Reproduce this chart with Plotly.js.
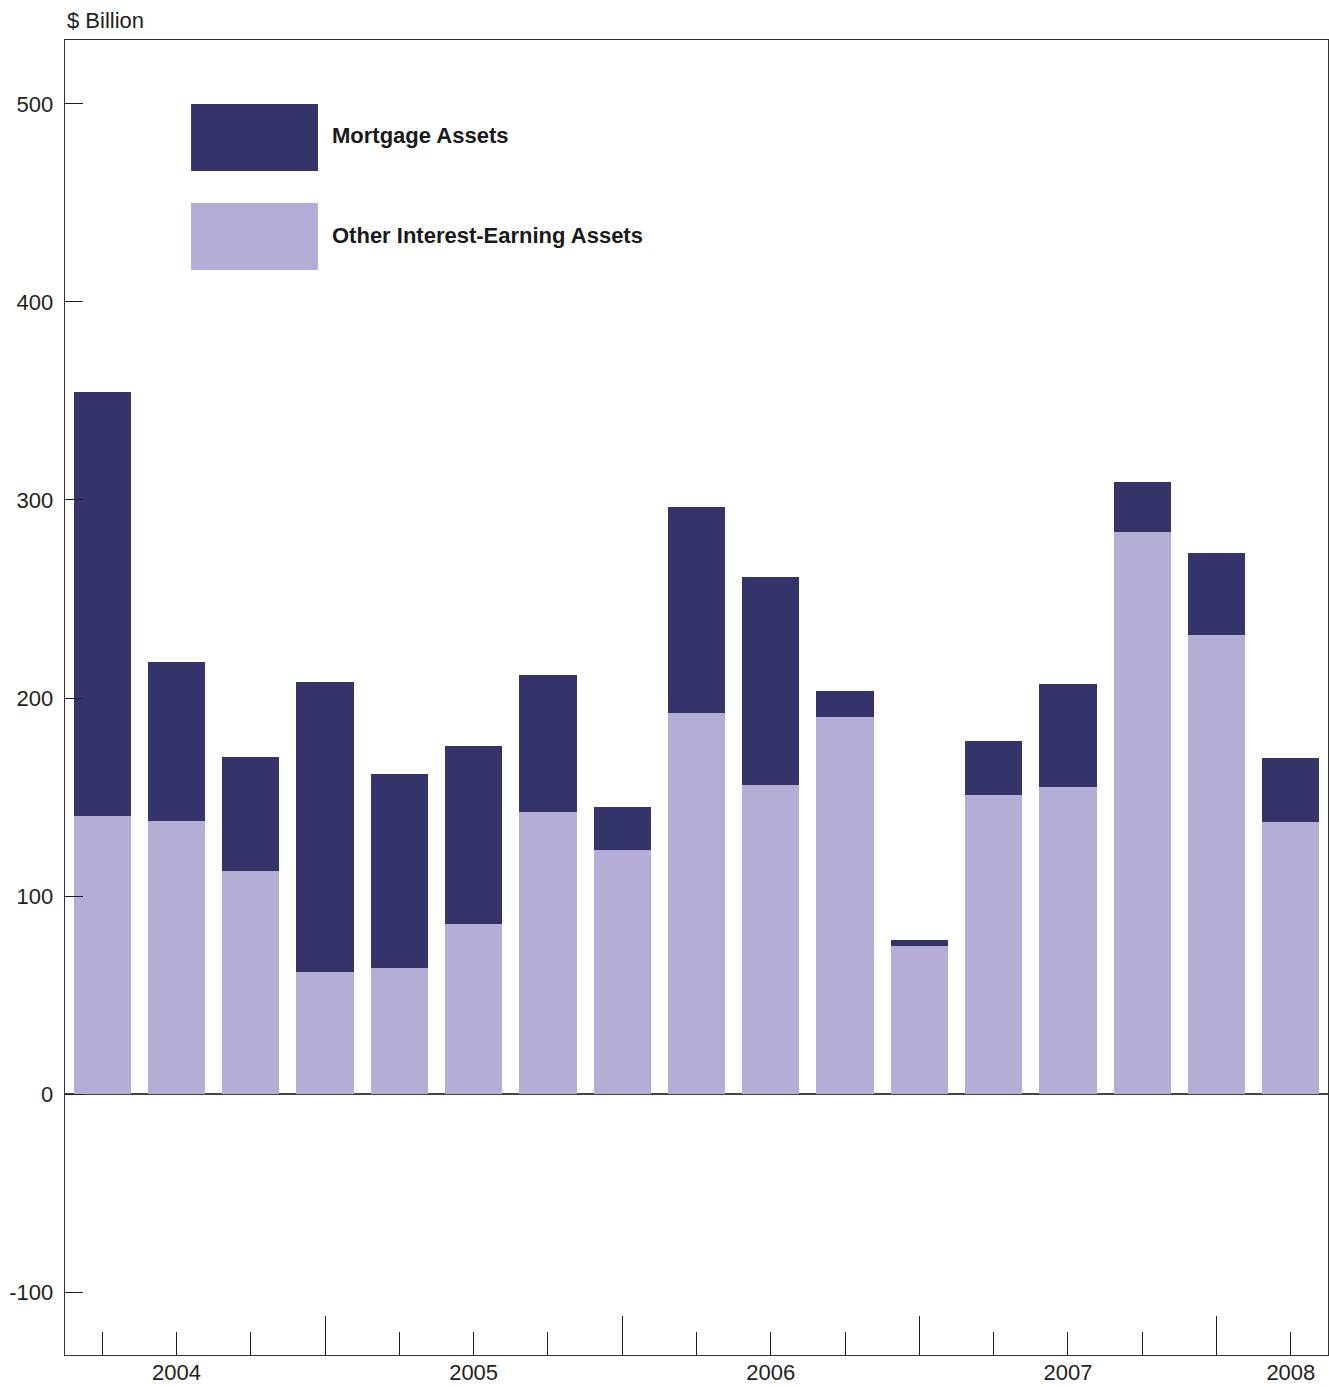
<!DOCTYPE html>
<html>
<head>
<meta charset="utf-8">
<script src="https://cdn.plot.ly/plotly-3.0.1.min.js"></script>
<style>
  html, body { margin: 0; padding: 0; background: #fff; }
  #chart { width: 1329px; height: 1387px; }
</style>
</head>
<body>
<div id="chart"></div>
<script>
// Quarters (2003 Q4 .. 2007 Q4)
const quarters = ["2003 Q4","2004 Q1","2004 Q2","2004 Q3","2004 Q4","2005 Q1","2005 Q2","2005 Q3","2005 Q4",
                  "2006 Q1","2006 Q2","2006 Q3","2006 Q4","2007 Q1","2007 Q2","2007 Q3","2007 Q4"];
// $ Billion
const otherAssets    = [140.4, 137.9, 112.6, 61.6, 63.6, 85.9, 142.4, 123.2, 192.4, 156.1, 190.4, 74.7, 151.0, 155.1, 283.8, 231.8, 137.4];
const mortgageAssets = [214.1, 80.3, 57.6, 146.5, 98.0, 89.9, 69.2, 21.8, 104.1, 105.0, 13.1, 3.0, 27.3, 52.0, 25.3, 41.4, 32.3];
// x tick labels (one per quarter, only some labelled)
const tickLabels = ["", "2004", "", "", "", "2005", "", "", "", "2006", "", "", "", "2007", "", "", "2008"];
const yearBoundaryIdx = [3, 7, 11, 15];
const yTickVals = [-100, 0, 100, 200, 300, 400, 500];
const yTickText = ["-100", "0", "100", "200", "300", "400", "500"];
const seriesNames = ["Mortgage Assets", "Other Interest-Earning Assets"];

const darkColor = "#34336A";
const lightColor = "#B4AED6";
const idx = quarters.map((q, i) => i);

const narrow = "'Liberation Sans Narrow', 'Arial Narrow', 'Liberation Sans', Arial, sans-serif";

const traces = [
  { type: "bar", name: seriesNames[1], x: idx, y: otherAssets, customdata: quarters, textposition: "none",
    marker: { color: lightColor, line: { width: 0 } }, hovertemplate: "%{customdata}: %{y}<extra></extra>" },
  { type: "bar", name: seriesNames[0], x: idx, y: mortgageAssets, customdata: quarters, textposition: "none",
    marker: { color: darkColor, line: { width: 0 } }, hovertemplate: "%{customdata}: %{y}<extra></extra>" },
  // invisible trace to host the long year-boundary ticks
  { type: "scatter", x: [], y: [], xaxis: "x2", yaxis: "y", showlegend: false, hoverinfo: "skip" }
];

const xr = [-0.5, quarters.length - 0.5];

const layout = {
  width: 1329, height: 1387,
  margin: { l: 65, r: 1, t: 40, b: 32, pad: 0 },
  paper_bgcolor: "#fff", plot_bgcolor: "#fff",
  barmode: "stack", bargap: 0.23,
  showlegend: false,
  font: { family: narrow, size: 22, color: "#231f20" },
  xaxis: {
    range: xr, tickmode: "array", tickvals: idx, ticktext: tickLabels,
    ticks: "inside", ticklen: 23, tickwidth: 1, tickcolor: "#231f20",
    showline: true, mirror: true, linecolor: "#333", linewidth: 1.3,
    showgrid: false, zeroline: false, automargin: false, ticklabelstandoff: -3,
    tickfont: { family: narrow, size: 22, color: "#231f20" }
  },
  xaxis2: {
    range: xr, overlaying: "x", anchor: "y", side: "bottom",
    tickmode: "array", tickvals: yearBoundaryIdx, ticks: "inside", ticklen: 39, tickwidth: 1,
    tickcolor: "#231f20", showticklabels: false, showline: false, showgrid: false, zeroline: false
  },
  yaxis: {
    range: [-131.8, 532.3], tickmode: "array", tickvals: yTickVals, ticktext: yTickText,
    ticks: "inside", ticklen: 18, tickwidth: 1, tickcolor: "#231f20",
    showline: true, mirror: true, linecolor: "#333", linewidth: 1.3,
    showgrid: false, zeroline: true, zerolinecolor: "#444", zerolinewidth: 1.3,
    automargin: false, ticklabelstandoff: 6,
    tickfont: { family: narrow, size: 22, color: "#231f20" }
  },
  shapes: [
    { type: "rect", xref: "paper", yref: "paper", x0: 0.0998, x1: 0.2003, y0: 0.9004, y1: 0.9513,
      fillcolor: darkColor, line: { width: 0 } },
    { type: "rect", xref: "paper", yref: "paper", x0: 0.0998, x1: 0.2003, y0: 0.8251, y1: 0.8760,
      fillcolor: lightColor, line: { width: 0 } }
  ],
  annotations: [
    { text: seriesNames[0], xref: "paper", yref: "paper", x: 0.2098, y: 0.927, xanchor: "left", yanchor: "middle",
      showarrow: false, font: { family: "'Liberation Sans', Arial, sans-serif", size: 22, color: "#1a1a1a", weight: "bold" } },
    { text: seriesNames[1], xref: "paper", yref: "paper", x: 0.2098, y: 0.8517, xanchor: "left", yanchor: "middle",
      showarrow: false, font: { family: "'Liberation Sans', Arial, sans-serif", size: 22, color: "#1a1a1a", weight: "bold" } },
    { text: "$ Billion", xref: "paper", yref: "paper", x: 0, y: 1, yshift: 5, xanchor: "left", yanchor: "bottom",
      showarrow: false, font: { family: "'Liberation Sans', Arial, sans-serif", size: 22, color: "#231f20" } }
  ]
};

Plotly.newPlot("chart", traces, layout, { displayModeBar: false, staticPlot: true });
</script>
</body>
</html>
